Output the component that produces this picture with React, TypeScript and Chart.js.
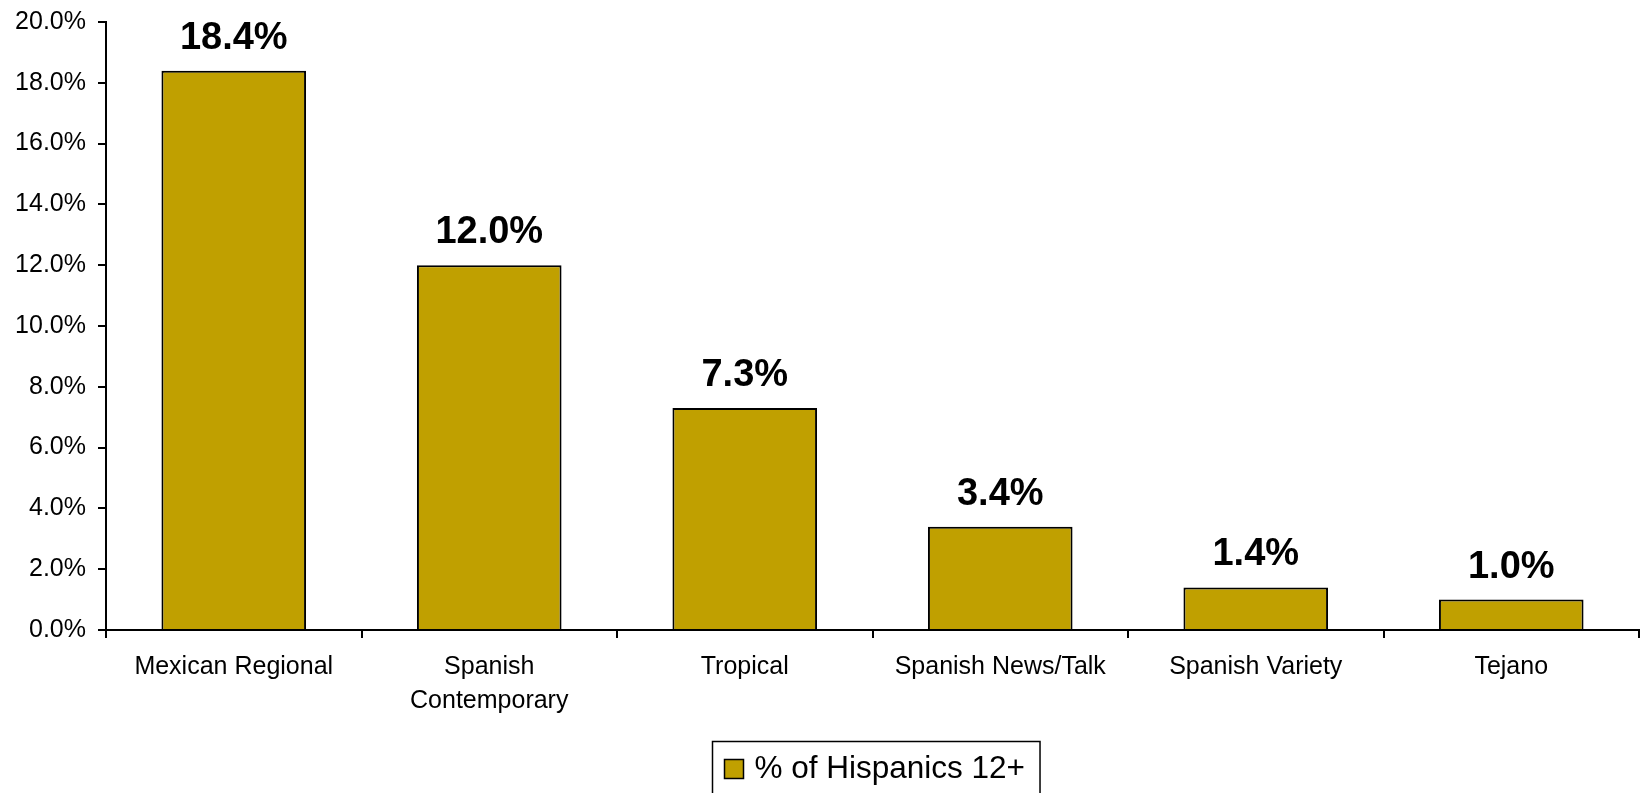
import React, { useEffect, useRef } from "react";
import { Chart, registerables } from "chart.js";

Chart.register(...registerables);

const categories: (string | string[])[] = [
  "Mexican Regional",
  ["Spanish", "Contemporary"],
  "Tropical",
  "Spanish News/Talk",
  "Spanish Variety",
  "Tejano",
];
const seriesName = "% of Hispanics 12+";
const values: number[] = [18.4, 12.0, 7.3, 3.4, 1.4, 1.0];
const yMin = 0;
const yMax = 20;
const yStep = 2;

const FONT = "'Liberation Sans', Arial, Helvetica, sans-serif";
const BAR_COLOR = "#C0A000";

const labelsPlugin = {
  id: "valueLabels",
  afterDatasetsDraw(chart: any) {
    const ctx = chart.ctx;
    const meta = chart.getDatasetMeta(0);
    ctx.save();
    ctx.font = `bold 38px ${FONT}`;
    ctx.fillStyle = "#000";
    ctx.textAlign = "center";
    ctx.textBaseline = "alphabetic";
    meta.data.forEach((el: any, i: number) => {
      ctx.fillText(values[i].toFixed(1) + "%", el.x, el.y - 22);
    });
    ctx.restore();
  },
};

const legendPlugin = {
  id: "boxLegend",
  afterDraw(chart: any) {
    const ctx = chart.ctx;
    const area = chart.chartArea;
    ctx.save();
    ctx.font = `31.5px ${FONT}`;
    const tw = ctx.measureText(seriesName).width;
    const padL = 12, sq = 19, gap = 11, padR = 15;
    const w = padL + sq + gap + tw + padR;
    const cx = (area.left + area.right) / 2 + 3;
    const left = Math.round(cx - w / 2) + 0.5;
    const top = 741.5;
    const h = 60;
    ctx.strokeStyle = "#000";
    ctx.lineWidth = 1.5;
    ctx.strokeRect(left, top, w, h);
    const sy = 759.5;
    ctx.fillStyle = BAR_COLOR;
    ctx.fillRect(left + padL, sy, sq, sq);
    ctx.strokeRect(left + padL, sy, sq, sq);
    ctx.fillStyle = "#000";
    ctx.textAlign = "left";
    ctx.textBaseline = "alphabetic";
    ctx.fillText(seriesName, left + padL + sq + gap, 778);
    ctx.restore();
  },
};

export default function App() {
  const ref = useRef<HTMLCanvasElement>(null);
  useEffect(() => {
    if (!ref.current) return;
    const chart = new Chart(ref.current, {
      type: "bar",
      data: {
        labels: categories as any,
        datasets: [
          {
            label: seriesName,
            data: values,
            backgroundColor: BAR_COLOR,
            borderColor: "#000",
            borderWidth: 2,
            categoryPercentage: 1,
            barPercentage: 0.566,
          },
        ],
      },
      options: {
        responsive: false,
        animation: false,
        layout: { padding: { top: 22, right: 1, left: 0, bottom: 63 } },
        plugins: {
          legend: { display: false },
          tooltip: { enabled: false },
        },
        scales: {
          x: {
            offset: true,
            grid: {
              offset: true,
              drawOnChartArea: false,
              drawTicks: true,
              tickLength: 8,
              color: "#000",
              lineWidth: 2,
            },
            border: { display: true, color: "#000", width: 2 },
            ticks: {
              color: "#000",
              font: { family: FONT, size: 25, lineHeight: 1.36 },
              padding: 12,
              maxRotation: 0,
              autoSkip: false,
            },
            afterFit(scale: any) {
              scale.height = 100;
              scale.paddingLeft = 0;
              scale.paddingRight = 0;
            },
          },
          y: {
            min: yMin,
            max: yMax,
            grid: {
              drawOnChartArea: false,
              drawTicks: true,
              tickLength: 8,
              color: "#000",
              lineWidth: 2,
            },
            border: { display: true, color: "#000", width: 2 },
            ticks: {
              stepSize: yStep,
              color: "#000",
              font: { family: FONT, size: 25 },
              padding: 12,
              callback: (v: any) => Number(v).toFixed(1) + "%",
            },
            afterFit(scale: any) {
              scale.width = 106;
              scale.paddingTop = 0;
              scale.paddingBottom = 0;
            },
          },
        },
      },
      plugins: [labelsPlugin, legendPlugin],
    });
    return () => chart.destroy();
  }, []);
  return (
    <div style={{ position: "absolute", left: 0, top: 0, width: 1640, height: 793, background: "#fff" }}>
      <canvas ref={ref} width={1640} height={793} style={{ display: "block" }} />
    </div>
  );
}
